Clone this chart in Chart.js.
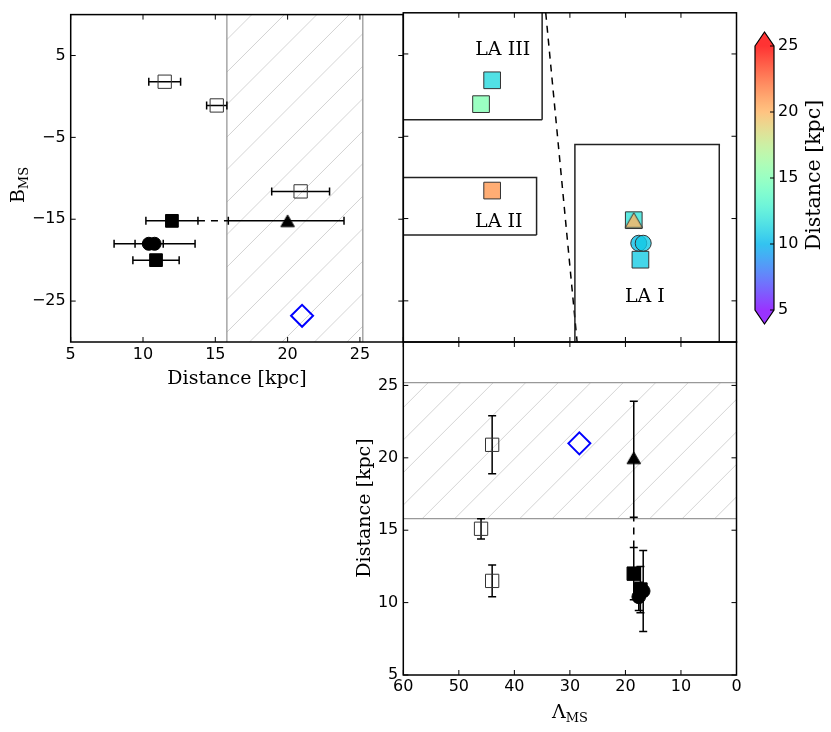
<!DOCTYPE html>
<html>
<head>
<meta charset="utf-8">
<script src="https://cdn.jsdelivr.net/npm/chart.js@4.4.1/dist/chart.umd.min.js"></script>
<style>
  body { margin: 0; background: #fff; }
  #wrap { position: relative; width: 831px; height: 732px; }
  #wrap canvas { position: absolute; left: 0; top: 0; }
</style>
</head>
<body>
<div id="wrap">
  <canvas id="distB" width="831" height="732"></canvas>
  <canvas id="lamB" width="831" height="732"></canvas>
  <canvas id="lamDist" width="831" height="732"></canvas>
  <canvas id="cbar" width="831" height="732"></canvas>
</div>
<script>
// open squares (fields outside LA I)
const openLam = [44, 46, 44];
const openB = [1.8, -1.1, -11.6];
const openDist = [11.5, 15.1, 20.9];
const openLo = [10.4, 14.4, 18.9];
const openHi = [12.6, 15.8, 22.9];

// LA I objects: square, triangle, circle, circle, square
const laShape = ['rect', 'triangle', 'circle', 'circle', 'rect'];
const laLam = [18.5, 18.5, 17.6, 16.8, 17.3];
const laB = [-15.2, -15.2, -18, -18, -20];
const laDist = [12.0, 20.0, 10.4, 10.8, 10.9];
const laLo = [10.2, 15.9, 9.45, 8.0, 9.3];
const laHi = [13.8, 23.9, 11.4, 13.6, 12.5];

// blue diamond
const diaLam = [28.3];
const diaB = [-26.8];
const diaDist = [21.0];

// hatched distance band
const bandLo = 15.8;
const bandHi = 25.2;

// LA regions (I, II, III)
const boxLamLo = [3.1, 36, 35];
const boxLamHi = [29.1, 62, 62];
const boxBLo = [-32, -17, -3];
const boxBHi = [-6, -10, 12];

// dashed connector in the Lambda-B panel
const connLam = [34.35, 28.7];
const connB = [10, -30];

const distTicks = [5, 10, 15, 20, 25];
const bTicks = [5, -5, -15, -25];
const lamTicks = [60, 50, 40, 30, 20, 10, 0];
const cbarTicks = [5, 10, 15, 20, 25];

const W = 831, H = 732;
const SERIF = '"DejaVu Serif", serif';
Chart.defaults.font.family = '"DejaVu Sans", sans-serif';
Chart.defaults.font.size = 16;
Chart.defaults.color = '#000';

function rainbow(d, a) {
  const t = Math.min(1, Math.max(0, (d - 5) / 20));
  const r = Math.min(1, Math.abs(2 * t - 0.5));
  const g = Math.sin(Math.PI * t);
  const b = Math.cos(Math.PI * t / 2);
  return `rgba(${Math.round(r * 255)},${Math.round(g * 255)},${Math.round(b * 255)},${a})`;
}

// matplotlib-like triangle (centred on its bounding box)
function triangleImage(r, fill, stroke, lw) {
  const w = Math.sqrt(3) * r, h = 1.5 * r;
  const c = document.createElement('canvas');
  c.width = Math.ceil(w + 2 * lw + 2);
  c.height = Math.ceil(h + 2 * lw + 2);
  const ctx = c.getContext('2d');
  const cx = c.width / 2, cy = c.height / 2;
  ctx.beginPath();
  ctx.moveTo(cx, cy - h / 2);
  ctx.lineTo(cx + w / 2, cy + h / 2);
  ctx.lineTo(cx - w / 2, cy + h / 2);
  ctx.closePath();
  ctx.fillStyle = fill;
  ctx.fill();
  if (lw) { ctx.lineWidth = lw; ctx.strokeStyle = stroke; ctx.stroke(); }
  return c;
}

function pts(xs, ys) {
  return xs.map((x, i) => ({ x: x, y: ys[i] }));
}

function axis(o) {
  return {
    type: 'linear', min: o.min, max: o.max, reverse: !!o.reverse,
    grid: { display: false, drawTicks: false }, border: { display: false },
    afterFit: s => { if (s.isHorizontal()) s.height = o.size; else s.width = o.size; },
    afterBuildTicks: s => { s.ticks = o.ticks.map(v => ({ value: v })); },
    ticks: {
      display: o.labels !== false, padding: o.pad,
      callback: v => String(v).replace('-', '\u2212')
    }
  };
}

function drawText(ctx, t) {
  ctx.save();
  ctx.translate(t.x, t.y);
  if (t.rot) ctx.rotate(t.rot);
  ctx.fillStyle = '#000';
  ctx.textBaseline = 'alphabetic';
  ctx.textAlign = 'left';
  ctx.font = t.size + 'px ' + SERIF;
  const w1 = ctx.measureText(t.text).width;
  let w2 = 0;
  const subSize = Math.round(t.size * 0.68);
  if (t.sub) {
    ctx.font = subSize + 'px ' + SERIF;
    w2 = ctx.measureText(t.sub).width;
  }
  const x0 = -(w1 + w2) / 2;
  ctx.font = t.size + 'px ' + SERIF;
  ctx.fillText(t.text, x0, 0);
  if (t.sub) {
    ctx.font = subSize + 'px ' + SERIF;
    ctx.fillText(t.sub, x0 + w1, t.size * 0.22);
  }
  ctx.restore();
}

const panelPlugin = {
  id: 'panel',
  beforeDatasetsDraw(chart, args, opts) {
    const { ctx, chartArea: a, scales: { x, y } } = chart;
    if (opts.band) {
      const b = opts.band;
      let r;
      if (b.dir === 'x') {
        const p1 = x.getPixelForValue(b.lo), p2 = x.getPixelForValue(b.hi);
        r = { l: Math.min(p1, p2), r: Math.max(p1, p2), t: a.top, b: a.bottom };
      } else {
        const p1 = y.getPixelForValue(b.lo), p2 = y.getPixelForValue(b.hi);
        r = { l: a.left, r: a.right, t: Math.min(p1, p2), b: Math.max(p1, p2) };
      }
      ctx.save();
      ctx.beginPath();
      ctx.rect(r.l, r.t, r.r - r.l, r.b - r.t);
      ctx.clip();
      ctx.strokeStyle = '#c8c8c8';
      ctx.lineWidth = 0.8;
      const hh = r.b - r.t;
      ctx.beginPath();
      for (let c = r.l - hh - 40; c < r.r + 40; c += 32.5) {
        ctx.moveTo(c, r.b);
        ctx.lineTo(c + hh, r.t);
      }
      ctx.stroke();
      ctx.restore();
      ctx.save();
      ctx.strokeStyle = '#999';
      ctx.lineWidth = 1.3;
      ctx.beginPath();
      if (b.dir === 'x') {
        ctx.moveTo(r.l, r.t); ctx.lineTo(r.l, r.b);
        ctx.moveTo(r.r, r.t); ctx.lineTo(r.r, r.b);
      } else {
        ctx.moveTo(r.l, r.t); ctx.lineTo(r.r, r.t);
        ctx.moveTo(r.l, r.b); ctx.lineTo(r.r, r.b);
      }
      ctx.stroke();
      ctx.restore();
    }
    (opts.errors || []).forEach(e => {
      ctx.save();
      ctx.strokeStyle = '#000';
      ctx.lineWidth = 1.5;
      ctx.beginPath();
      e.x.forEach((xv, i) => {
        if (e.dir === 'x') {
          const py = y.getPixelForValue(e.y[i]);
          const p1 = x.getPixelForValue(e.lo[i]), p2 = x.getPixelForValue(e.hi[i]);
          ctx.moveTo(p1, py); ctx.lineTo(p2, py);
          ctx.moveTo(p1, py - 4); ctx.lineTo(p1, py + 4);
          ctx.moveTo(p2, py - 4); ctx.lineTo(p2, py + 4);
        } else {
          const px = x.getPixelForValue(xv);
          const p1 = y.getPixelForValue(e.lo[i]), p2 = y.getPixelForValue(e.hi[i]);
          ctx.moveTo(px, p1); ctx.lineTo(px, p2);
          ctx.moveTo(px - 4, p1); ctx.lineTo(px + 4, p1);
          ctx.moveTo(px - 4, p2); ctx.lineTo(px + 4, p2);
        }
      });
      ctx.stroke();
      ctx.restore();
    });
  },
  afterDraw(chart, args, opts) {
    const { ctx, chartArea: a, scales: { x, y } } = chart;
    ctx.save();
    ctx.strokeStyle = '#000';
    ctx.lineWidth = 1;
    ctx.beginPath();
    x.ticks.forEach(t => {
      const p = x.getPixelForValue(t.value);
      ctx.moveTo(p, a.bottom); ctx.lineTo(p, a.bottom - 5);
      ctx.moveTo(p, a.top); ctx.lineTo(p, a.top + 5);
    });
    y.ticks.forEach(t => {
      const p = y.getPixelForValue(t.value);
      ctx.moveTo(a.left, p); ctx.lineTo(a.left + 5, p);
      ctx.moveTo(a.right, p); ctx.lineTo(a.right - 5, p);
    });
    ctx.stroke();
    ctx.lineWidth = 1.5;
    ctx.strokeRect(a.left, a.top, a.right - a.left, a.bottom - a.top);
    ctx.restore();
    (opts.notes || []).forEach(n => {
      drawText(ctx, { text: n.text, x: x.getPixelForValue(n.x), y: y.getPixelForValue(n.y), size: 19 });
    });
    (opts.titles || []).forEach(t => drawText(ctx, t));
  }
};

function panel(id, area, xo, yo, datasets, opts) {
  return new Chart(document.getElementById(id), {
    type: 'scatter',
    data: { datasets: datasets },
    options: {
      responsive: false,
      animation: false,
      events: [],
      layout: {
        padding: { left: area.l - yo.size, top: area.t, right: W - area.r, bottom: H - area.b - xo.size }
      },
      plugins: { legend: { display: false }, tooltip: { enabled: false }, panel: opts },
      scales: { x: axis(xo), y: axis(yo) }
    },
    plugins: [panelPlugin]
  });
}

const triBlack = triangleImage(7.8, '#000', '#000', 1);
const triColour = triangleImage(10, rainbow(laDist[1], 0.8), '#333', 1);

// ---- top left: distance vs B_MS ----
panel('distB', { l: 70.7, t: 9.5, r: 403.3, b: 342 },
  { min: 5, max: 28, ticks: distTicks, size: 40, pad: 3 },
  { min: -30, max: 10, ticks: bTicks, size: 60, pad: 5 },
  [
    {
      data: [{ x: laHi[0], y: laB[0] }, { x: laLo[1], y: laB[1] }],
      showLine: true, pointRadius: 0, borderColor: '#000', borderWidth: 1.5, borderDash: [7, 6]
    },
    {
      data: pts(openDist, openB), pointStyle: 'rect', pointRadius: 9.4,
      borderColor: '#333', borderWidth: 1, backgroundColor: 'rgba(0,0,0,0)'
    },
    {
      data: pts(laDist, laB),
      pointStyle: laShape.map(s => s === 'triangle' ? triBlack : s),
      pointRadius: laShape.map(s => s === 'rect' ? 9 : s === 'circle' ? 6.5 : 8),
      borderColor: '#000', borderWidth: 1, backgroundColor: '#000'
    },
    {
      data: pts(diaDist, diaB), pointStyle: 'rectRot', pointRadius: 11,
      borderColor: '#0000ff', borderWidth: 2, backgroundColor: 'rgba(0,0,0,0)'
    }
  ],
  {
    band: { dir: 'x', lo: bandLo, hi: bandHi },
    errors: [
      { dir: 'x', x: openDist, y: openB, lo: openLo, hi: openHi },
      { dir: 'x', x: laDist, y: laB, lo: laLo, hi: laHi }
    ],
    titles: [
      { text: 'Distance [kpc]', x: 237, y: 384, size: 19 },
      { text: 'B', sub: 'MS', x: 24, y: 185, size: 19, rot: -Math.PI / 2 }
    ]
  });

// ---- top right: Lambda_MS vs B_MS ----
panel('lamB', { l: 403.3, t: 9.5, r: 736.5, b: 342 },
  { min: 0, max: 60, reverse: true, ticks: lamTicks, size: 0, labels: false, pad: 0 },
  { min: -30, max: 10, ticks: bTicks, size: 0, labels: false, pad: 0 },
  boxLamLo.map((lo, i) => ({
    data: [
      { x: lo, y: boxBLo[i] }, { x: lo, y: boxBHi[i] }, { x: boxLamHi[i], y: boxBHi[i] },
      { x: boxLamHi[i], y: boxBLo[i] }, { x: lo, y: boxBLo[i] }
    ],
    showLine: true, pointRadius: 0, borderColor: '#222', borderWidth: 1.5
  })).concat([
    {
      data: pts(connLam, connB), showLine: true, pointRadius: 0,
      borderColor: '#000', borderWidth: 1.5, borderDash: [7, 6]
    },
    {
      data: pts(openLam, openB), pointStyle: 'rect', pointRadius: 11.8,
      borderColor: '#333', borderWidth: 1,
      backgroundColor: openDist.map(d => rainbow(d, 0.8))
    },
    {
      data: pts(laLam, laB),
      pointStyle: laShape.map(s => s === 'triangle' ? triColour : s),
      pointRadius: laShape.map(s => s === 'rect' ? 11.8 : s === 'circle' ? 8 : 10),
      borderColor: '#333', borderWidth: 1,
      backgroundColor: laDist.map(d => rainbow(d, 0.8))
    }
  ]),
  {
    notes: [
      { text: 'LA III', x: 42.1, y: 4.85 },
      { text: 'LA II', x: 42.8, y: -16.05 },
      { text: 'LA I', x: 16.5, y: -25.2 }
    ]
  });

// ---- bottom right: Lambda_MS vs distance ----
panel('lamDist', { l: 403.3, t: 342, r: 736.5, b: 675 },
  { min: 0, max: 60, reverse: true, ticks: lamTicks, size: 40, pad: 2 },
  { min: 5, max: 28, ticks: distTicks, size: 50, pad: 5 },
  [
    {
      data: [{ x: laLam[0], y: laHi[0] }, { x: laLam[1], y: laLo[1] }],
      showLine: true, pointRadius: 0, borderColor: '#000', borderWidth: 1.5, borderDash: [7, 6]
    },
    {
      data: pts(openLam, openDist), pointStyle: 'rect', pointRadius: 9.4,
      borderColor: '#333', borderWidth: 1, backgroundColor: 'rgba(0,0,0,0)'
    },
    {
      data: pts(laLam, laDist),
      pointStyle: laShape.map(s => s === 'triangle' ? triBlack : s),
      pointRadius: laShape.map(s => s === 'rect' ? 9.5 : s === 'circle' ? 6.8 : 8),
      borderColor: '#000', borderWidth: 1, backgroundColor: '#000'
    },
    {
      data: pts(diaLam, diaDist), pointStyle: 'rectRot', pointRadius: 11,
      borderColor: '#0000ff', borderWidth: 2, backgroundColor: 'rgba(0,0,0,0)'
    }
  ],
  {
    band: { dir: 'y', lo: bandLo, hi: bandHi },
    errors: [
      { dir: 'y', x: openLam, y: openDist, lo: openLo, hi: openHi },
      { dir: 'y', x: laLam, y: laDist, lo: laLo, hi: laHi }
    ],
    titles: [
      { text: '\u039B', sub: 'MS', x: 570, y: 718, size: 19 },
      { text: 'Distance [kpc]', x: 370, y: 508, size: 19, rot: -Math.PI / 2 }
    ]
  });

// ---- colour bar ----
const cbarPlugin = {
  id: 'cbarDraw',
  afterDraw(chart) {
    const { ctx, chartArea: a, scales: { y } } = chart;
    const ext = 14;
    const cx = (a.left + a.right) / 2;
    const pLo = y.getPixelForValue(5), pHi = y.getPixelForValue(25);
    const g = ctx.createLinearGradient(0, pLo, 0, pHi);
    for (let i = 0; i <= 40; i++) g.addColorStop(i / 40, rainbow(5 + i / 2, 0.8));
    ctx.save();
    ctx.fillStyle = g;
    ctx.fillRect(a.left, pHi, a.right - a.left, pLo - pHi);
    ctx.fillStyle = rainbow(25, 0.8);
    ctx.beginPath();
    ctx.moveTo(a.left, pHi); ctx.lineTo(cx, pHi - ext); ctx.lineTo(a.right, pHi); ctx.closePath();
    ctx.fill();
    ctx.fillStyle = rainbow(5, 0.8);
    ctx.beginPath();
    ctx.moveTo(a.left, pLo); ctx.lineTo(cx, pLo + ext); ctx.lineTo(a.right, pLo); ctx.closePath();
    ctx.fill();
    ctx.strokeStyle = '#000';
    ctx.lineWidth = 1.2;
    ctx.beginPath();
    ctx.moveTo(a.left, pHi); ctx.lineTo(cx, pHi - ext); ctx.lineTo(a.right, pHi);
    ctx.lineTo(a.right, pLo); ctx.lineTo(cx, pLo + ext); ctx.lineTo(a.left, pLo);
    ctx.closePath();
    ctx.stroke();
    ctx.lineWidth = 1;
    ctx.beginPath();
    y.ticks.forEach(t => {
      const p = y.getPixelForValue(t.value);
      ctx.moveTo(a.right, p); ctx.lineTo(a.right - 4, p);
    });
    ctx.stroke();
    ctx.restore();
    drawText(ctx, { text: 'Distance [kpc]', x: 820, y: 175, size: 20.5, rot: -Math.PI / 2 });
  }
};

new Chart(document.getElementById('cbar'), {
  type: 'scatter',
  data: { datasets: [{ data: [] }] },
  options: {
    responsive: false,
    animation: false,
    events: [],
    layout: { padding: { left: 755, top: 46, right: W - 774 - 40, bottom: H - 310 } },
    plugins: { legend: { display: false }, tooltip: { enabled: false } },
    scales: {
      x: { display: false, min: 0, max: 1 },
      y: {
        type: 'linear', position: 'right', min: 5, max: 25,
        grid: { display: false, drawTicks: false }, border: { display: false },
        afterFit: s => { s.width = 40; },
        afterBuildTicks: s => { s.ticks = cbarTicks.map(v => ({ value: v })); },
        ticks: { padding: 4 }
      }
    }
  },
  plugins: [cbarPlugin]
});
</script>
</body>
</html>
